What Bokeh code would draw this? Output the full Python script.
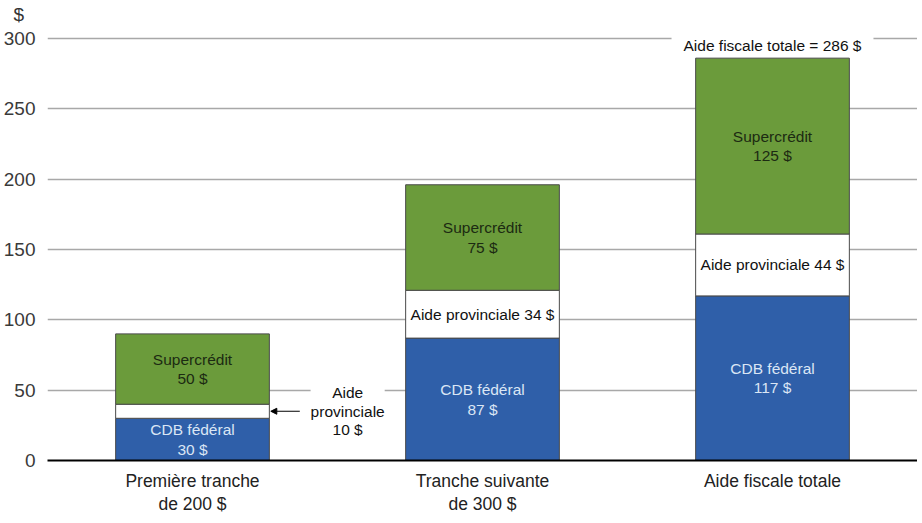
from bokeh.plotting import figure
from bokeh.models import ColumnDataSource, Label, Arrow, NormalHead, FactorRange, Range1d, FixedTicker
from bokeh.core.properties import value
from bokeh.embed import file_html
from bokeh.resources import INLINE

# ---------------- data ----------------
categories = ["Première tranche\nde 200 $", "Tranche suivante\nde 300 $", "Aide fiscale totale"]
cdb_federal = [30, 87, 117]
aide_provinciale = [10, 34, 44]
supercredit = [50, 75, 125]
y_ticks = [0, 50, 100, 150, 200, 250, 300]
total_text = "Aide fiscale totale = 286 $"
callout_text = "Aide\nprovinciale\n10 $"
unit_text = "$"

# ---------------- style ----------------
BLUE = "#2f5fa9"
GREEN = "#6b9b3b"
FONT = "Liberation Sans"
BAR_W = 0.53

p = figure(frame_width=870, frame_height=434,
           x_range=FactorRange(*categories, range_padding=0),
           y_range=Range1d(0, 308.5),
           output_backend="svg", toolbar_location=None,
           min_border_left=0, min_border_right=0,
           min_border_top=0, min_border_bottom=0,
           title=unit_text)
p.outline_line_color = None
p.background_fill_color = "white"

p.title.align = "left"
p.title.offset = -34
p.title.standoff = 3
p.title.text_font = FONT
p.title.text_font_size = "19px"
p.title.text_font_style = "normal"
p.title.text_color = "#333333"

src = ColumnDataSource(dict(x=categories, cdb=cdb_federal, prov=aide_provinciale, sup=supercredit))
p.vbar_stack(["cdb", "prov", "sup"], x="x", width=BAR_W, source=src,
             fill_color=[BLUE, "white", GREEN], line_color="#4a4a4a", line_width=1)

# segment midpoints
cdb_mid = [c / 2 for c in cdb_federal]
prov_mid = [c + a / 2 for c, a in zip(cdb_federal, aide_provinciale)]
sup_mid = [c + a + s / 2 for c, a, s in zip(cdb_federal, aide_provinciale, supercredit)]
totals = [c + a + s for c, a, s in zip(cdb_federal, aide_provinciale, supercredit)]

common = dict(text_align="center", text_baseline="middle", text_font=value(FONT),
              text_font_size="15.5px", text_line_height=1.15)

p.text(x=categories, y=sup_mid, text=[f"Supercrédit\n{v} $" for v in supercredit],
       text_color="#1c2a12", **common)
p.text(x=categories, y=cdb_mid, text=[f"CDB fédéral\n{v} $" for v in cdb_federal],
       text_color="#dbe6f5", **common)
p.text(x=categories[1:], y=prov_mid[1:], text=[f"Aide provinciale {v} $" for v in aide_provinciale[1:]],
       text_color="#111111", **common)

# callout for first bar's provincial share
edge = 0.5 + BAR_W / 2
p.add_layout(Arrow(x_start=edge + 0.105, y_start=prov_mid[0], x_end=edge + 0.005, y_end=prov_mid[0],
                   end=NormalHead(size=6, fill_color="black", line_color="black"),
                   line_color="black", line_width=1.2))
p.add_layout(Label(x=edge + 0.27, y=prov_mid[0], text=callout_text, text_align="center",
                   text_baseline="middle", text_font=FONT, text_font_size="15.5px",
                   text_line_height=1.1, text_color="#111111",
                   background_fill_color="white"))

# total label
p.add_layout(Label(x=2.5, y=totals[2], y_offset=2, text=total_text, text_align="center",
                   text_baseline="bottom", text_font=FONT, text_font_size="15.5px",
                   text_color="#111111", background_fill_color="white",
                   padding=dict(left=12, right=12, top=2, bottom=2)))

# axes
p.yaxis.ticker = FixedTicker(ticks=y_ticks)
p.yaxis.axis_line_color = None
p.yaxis.major_tick_line_color = None
p.yaxis.minor_tick_line_color = None
p.yaxis.major_label_text_font = FONT
p.yaxis.major_label_text_font_size = "19px"
p.yaxis.major_label_text_color = "#3a3a3a"
p.yaxis.major_label_standoff = 6

p.xaxis.axis_line_color = "black"
p.xaxis.axis_line_width = 2
p.xaxis.major_tick_line_color = None
p.xaxis.minor_tick_line_color = None
p.xaxis.major_label_text_font = FONT
p.xaxis.major_label_text_font_size = "17.5px"
p.xaxis.major_label_text_color = "#222222"
p.xaxis.major_label_standoff = 4
p.xaxis.major_label_text_line_height = 1.15

p.xgrid.grid_line_color = None
p.ygrid.grid_line_color = "#a8a8a8"
p.ygrid.grid_line_width = 1.5

open("out.html", "w").write(file_html(p, INLINE))
